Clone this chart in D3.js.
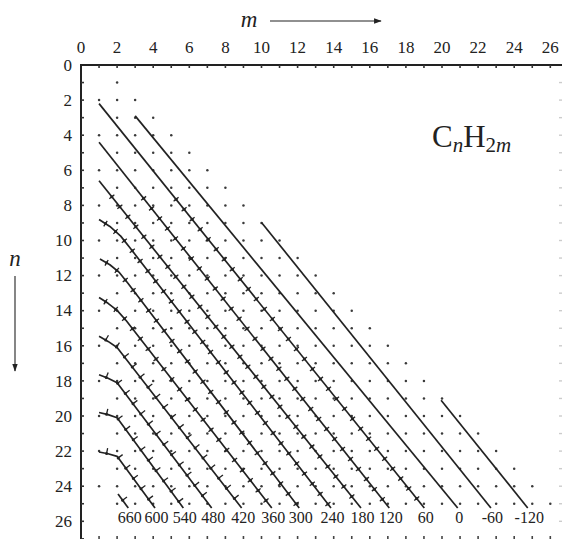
<!DOCTYPE html>
<html><head><meta charset="utf-8">
<script src="https://cdn.jsdelivr.net/npm/d3@7"></script>
<style>
html,body{margin:0;padding:0;background:#fff;}
svg{display:block;}
text{font-family:"Liberation Serif","Times New Roman",serif;fill:#222;}
</style></head><body>
<svg id="chart" width="562" height="539"></svg>
<script>
// ---- data ----
const mTickLabels = [0,2,4,6,8,10,12,14,16,18,20,22,24,26];
const nTickLabels = [0,2,4,6,8,10,12,14,16,18,20,22,24,26];
const dotRowN   = [1,2,3,4,5,6,7,8,9,10,11,12,13,14,15,16,17,18,19,20,21,22,23,24,25];
const dotFirstM = [2,1,2,1,2,1,2,1,2,1,2,1,2,1,2,1,2,1,2,1,2,1,2,1,2];
const dotLastM  = [2,3,4,5,6,7,8,9,10,11,12,13,14,15,16,17,18,19,20,21,22,23,24,25,26];

const lineLabels = ["660","600","540","480","420","360","300","240","180","120","60","0","-60","-120"];
const lineM = [
  [2.05,2.62],
  [1,1.5,2,4.1],
  [1,1.5,2,5.67],
  [1,1.5,2,7.24],
  [1,1.5,2,8.9],
  [1,1.5,2,2.5,10.57],
  [1.05,1.6,2.1,2.6,12.09],
  [1,1.6,2.2,2.7,13.85],
  [1,15.51],
  [1,17.08],
  [1,19.02],
  [3,20.87],
  [10,22.71],
  [19.95,24.75]
];
const lineN = [
  [24.45,25.24],
  [22.05,22.15,22.3,25.24],
  [19.8,19.92,20.1,25.24],
  [17.65,17.85,18.1,25.24],
  [15.45,15.75,16.1,25.24],
  [13.25,13.58,13.98,14.56,25.24],
  [11.05,11.38,11.8,12.44,25.24],
  [8.8,9.2,9.75,10.4,25.24],
  [6.6,25.24],
  [4.4,25.24],
  [2.2,25.24],
  [2.9,25.24],
  [8.97,25.24],
  [19.1,25.24]
];
const lineHasTicks = [true,true,true,true,true,true,true,true,true,true,true,false,false,false];
const lineOneSided = [true,true,true,true,true,false,false,false,false,false,false,false,false,false];

// ---- scales ----
const svg = d3.select("#chart");
const x = d3.scaleLinear().domain([0,26]).range([81, 81 + 26*18.05]);
const y = d3.scaleLinear().domain([0,27]).range([65, 65 + 27*17.55]);
const ink = "#222";

// ---- frame / axes ----
svg.append("line").attr("x1",x(0)).attr("x2",562).attr("y1",y(0)).attr("y2",y(0))
  .attr("stroke",ink).attr("stroke-width",2);
svg.append("line").attr("x1",x(0)).attr("x2",x(0)).attr("y1",y(0)-1).attr("y2",539)
  .attr("stroke",ink).attr("stroke-width",2);

const allM = d3.range(1,27);
const allN = d3.range(1,28);
svg.append("g").selectAll("line").data(allM).join("line")
  .attr("x1",d=>x(d)).attr("x2",d=>x(d)).attr("y1",y(0)).attr("y2",y(0)+3)
  .attr("stroke","#333").attr("stroke-width",1.6);
svg.append("g").selectAll("line").data(allN).join("line")
  .attr("x1",x(0)).attr("x2",x(0)+3).attr("y1",d=>y(d)).attr("y2",d=>y(d))
  .attr("stroke","#333").attr("stroke-width",1.6);
svg.append("g").selectAll("line").data(d3.range(1,27)).join("line")
  .attr("x1",559).attr("x2",562).attr("y1",d=>y(d)).attr("y2",d=>y(d))
  .attr("stroke","#ccc").attr("stroke-width",1.4);
svg.append("g").selectAll("line").data(allM).join("line")
  .attr("x1",d=>x(d)).attr("x2",d=>x(d)).attr("y1",536).attr("y2",539)
  .attr("stroke","#444").attr("stroke-width",1.6);

svg.append("g").selectAll("text").data(mTickLabels).join("text")
  .attr("x",d=>x(d)).attr("y",53).attr("text-anchor","middle")
  .attr("font-size",17).text(d=>d);
svg.append("g").selectAll("text").data(nTickLabels).join("text")
  .attr("x",72).attr("y",d=>y(d)).attr("dy","0.34em").attr("text-anchor","end")
  .attr("font-size",17).text(d=>d);

const defs = svg.append("defs");
defs.append("marker").attr("id","arr").attr("viewBox","0 0 10 10").attr("refX",9).attr("refY",5)
  .attr("markerWidth",7).attr("markerHeight",7).attr("orient","auto")
  .append("path").attr("d","M0,1.5 L10,5 L0,8.5 Z").attr("fill",ink);
svg.append("text").attr("x",249).attr("y",27).attr("text-anchor","middle")
  .attr("font-size",23).attr("font-style","italic").text("m");
svg.append("line").attr("x1",270).attr("x2",381).attr("y1",21).attr("y2",21)
  .attr("stroke",ink).attr("stroke-width",1.1).attr("marker-end","url(#arr)");
svg.append("text").attr("x",15).attr("y",266).attr("text-anchor","middle")
  .attr("font-size",23).attr("font-style","italic").text("n");
svg.append("line").attr("x1",15).attr("x2",15).attr("y1",276).attr("y2",371)
  .attr("stroke",ink).attr("stroke-width",1.1).attr("marker-end","url(#arr)");

const f = svg.append("text").attr("x",432).attr("y",147).attr("font-size",31);
f.append("tspan").text("C");
f.append("tspan").attr("font-size",21).attr("font-style","italic").attr("dy",5).text("n");
f.append("tspan").attr("dy",-5).text("H");
f.append("tspan").attr("font-size",21).attr("dy",5).text("2");
f.append("tspan").attr("font-size",21).attr("font-style","italic").text("m");

// ---- lattice dots ----
const dots = [];
dotRowN.forEach((n,i)=>{ for(let m=dotFirstM[i]; m<=dotLastM[i]; m++) dots.push([m,n]); });
svg.append("g").selectAll("circle").data(dots).join("circle")
  .attr("cx",d=>x(d[0])).attr("cy",d=>y(d[1])).attr("r",1.25).attr("fill","#3a3a3a");

// ---- lines ----
const lines = lineLabels.map((lab,i)=>({
  label: lab,
  pts: lineM[i].map((m,j)=>[m, lineN[i][j]]),
  ticks: lineHasTicks[i],
  oneSided: lineOneSided[i]
}));
const gl = svg.append("g");
const STEP = 12.8;   // spacing of cross marks along a line, px
const gen = d3.line().x(d=>x(d[0])).y(d=>y(d[1]));
lines.forEach(L=>{
  gl.append("path").attr("d", gen(L.pts)).attr("fill","none")
    .attr("stroke",ink).attr("stroke-width",1.7).attr("stroke-linejoin","round");
  if(!L.ticks) return;
  const P = L.pts.map(p=>[x(p[0]), y(p[1])]);
  const marks = [];
  let s = STEP*0.6;
  for(let j=0;j<P.length-1;j++){
    const dx = P[j+1][0]-P[j][0], dy = P[j+1][1]-P[j][1], len = Math.hypot(dx,dy);
    while(s <= len){
      const px = P[j][0] + dx*s/len, py = P[j][1] + dy*s/len;
      if(py >= y(7.3) && py <= y(25.1)) marks.push({px, py, ux: dy/len, uy: -dx/len});
      s += STEP;
    }
    s -= len;
  }
  const g = gl.append("g");
  g.selectAll("line").data(marks).join("line")
    .attr("x1",d=> L.oneSided ? d.px : d.px - d.ux*3.2)
    .attr("y1",d=> L.oneSided ? d.py : d.py - d.uy*3.2)
    .attr("x2",d=> d.px + d.ux*(L.oneSided?5.5:3.2))
    .attr("y2",d=> d.py + d.uy*(L.oneSided?5.5:3.2))
    .attr("stroke",ink).attr("stroke-width",1.3);
  g.selectAll("circle").data(marks).join("circle")
    .attr("cx",d=>d.px).attr("cy",d=>d.py).attr("r",1.5).attr("fill",ink);
});

svg.append("g").selectAll("text").data(lines).join("text")
  .attr("x",d=>x(d.pts[d.pts.length-1][0])+1.5).attr("y",523).attr("text-anchor","middle")
  .attr("font-size",16).text(d=>d.label);
</script>
</body></html>
